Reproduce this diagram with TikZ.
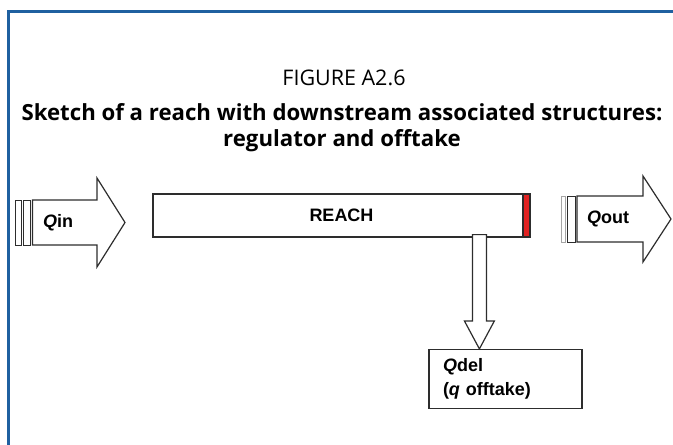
\documentclass[tikz,border=0pt]{standalone}
\usepackage{fontspec}
\setmainfont{Liberation Sans}
\newfontfamily\captionfont{Open Sans}
\usetikzlibrary{calc}
\definecolor{frameblue}{RGB}{31,96,160}
\definecolor{linegrey}{RGB}{45,45,45}
\definecolor{regred}{RGB}{225,35,35}
\tikzset{
  label_font/.style = {font=\fontsize{18}{24}\selectfont\bfseries},
  caption_font/.style = {font=\fontsize{21.5}{26}\selectfont\captionfont},
  caption_bold/.style = {font=\fontsize{22.2}{26}\selectfont\captionfont\bfseries},
  outline/.style = {draw=linegrey, line width=1.2pt},
  hollow/.style = {outline, fill=white, line join=miter},
  stripe/.style = {outline, fill=white, line width=1pt}
}
\tikzset{
  reach_box/.style = {outline, label_font, minimum width=377, minimum height=43, inner sep=0},
  offtake_box/.style = {outline, label_font, align=left, text width=125, minimum height=59, inner xsep=14},
  flow_label/.style = {label_font, anchor=west, inner sep=0}
}
\begin{document}
\begin{tikzpicture}[x=1pt, y=-1pt]
    \useasboundingbox (0,0) rectangle (673,445);

    % Frame
    \draw[frameblue, line width=2.4pt] (8.3,445) -- (8.3,11.5) -- (673,11.5);

    % Caption
    \node[caption_font] (fig) at (344,78) {FIGURE A2.6};
    \node[caption_bold, align=center] (cap) at (342,127.5) {
        Sketch of a reach with downstream associated structures:\\
        regulator and offtake};

    % Reach with regulator
    \node[reach_box, path picture={
        \fill[regred] ($(path picture bounding box.north east)+(-7,0)$) rectangle (path picture bounding box.south east);
        \draw[outline] ($(path picture bounding box.north east)+(-7,0)$) -- ($(path picture bounding box.south east)+(-7,0)$);
        }] at (341.5,215.5) (reach) {REACH};

    % Offtake
    \node[offtake_box] at (505.5,379) (qdel) {
        \textit{Q}del\\
        (\textit{q} offtake)};

    % Inflow
    \draw[stripe] (15,200) rectangle (21.5,245);
    \draw[stripe] (23.5,200) rectangle (30.5,245);
    \draw[hollow] (32.5,200) -- (97,200) -- (97,178) -- (125,222.5) -- (97,267) -- (97,245) -- (32.5,245) -- cycle;
    \node[flow_label] at (43,222.5) (qin) {\textit{Q}in};

    % Outflow
    \draw[stripe, draw=gray!70] (561,196) rectangle (565.5,242);
    \draw[stripe] (567.5,196) rectangle (575,242);
    \draw[hollow] (577,196) -- (643,196) -- (643,176) -- (671,219) -- (643,262) -- (643,242) -- (577,242) -- cycle;
    \node[flow_label] at (587,219) (qout) {\textit{Q}out};

    % Offtake arrow
    \coordinate (take) at ($(reach.south west)+(327,-3)$);
    \coordinate (tip) at (take |- qdel.north);
    \draw[hollow] ($(take)+(-7,0)$) -- ($(take)+(7,0)$) -- ($(tip)+(7,-28)$) -- ($(tip)+(15,-28)$)
        -- (tip) -- ($(tip)+(-15,-28)$) -- ($(tip)+(-7,-28)$) -- cycle;
\end{tikzpicture}
\end{document}
